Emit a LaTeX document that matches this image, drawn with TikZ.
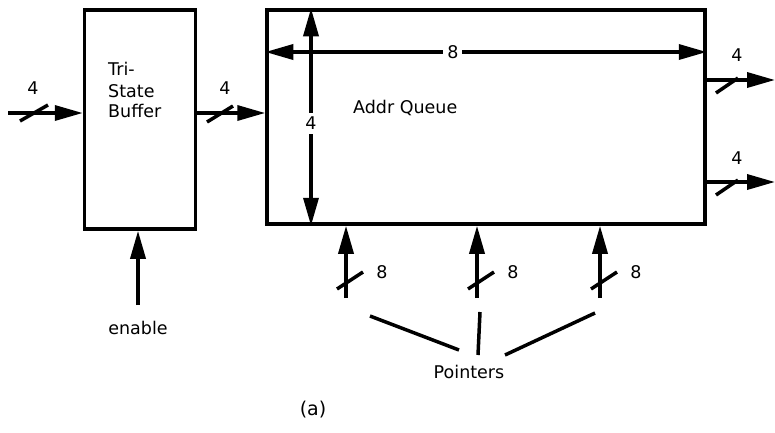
\documentclass[tikz,border=0pt]{standalone}
\usepackage{fontspec}
\setmainfont{DejaVu Sans}
\usetikzlibrary{arrows.meta}
\begin{document}
\begin{tikzpicture}[x=1pt,y=-1pt,
  box/.style={draw, line width=3.5pt, inner sep=0pt},
  tip/.tip={Triangle[length=28pt,width=15pt]},
  wire/.style={line width=3.5pt, -tip},
  dwire/.style={line width=3.5pt, tip-tip},
  slash/.style={line width=3.5pt},
  plain/.style={line width=3.5pt},
  lbl/.style={font=\fontsize{17.5}{21}\selectfont, inner sep=1pt},
  gap/.style={lbl, fill=white, inner sep=4pt}]
\useasboundingbox (0,0) rectangle (775,432);

% boxes
\node[box, minimum width=111pt, minimum height=219pt] (buf) at (140,119.5) {};
\node[box, minimum width=438pt, minimum height=214pt] (q) at (486,117) {};

\node[lbl, anchor=base west] (t1) at (107,75) {Tri-};
\node[lbl, anchor=base west] (t2) at (107,97) {State};
\node[lbl, anchor=base west] (t3) at (107,117) {Buffer};
\node[lbl, anchor=base west] (qtxt) at (352,113) {Addr Queue};

% input to buffer
\coordinate (in) at (8,113);
\draw[wire] (in) -- (in -| buf.west);
\draw[slash] (20,121) -- (48,105);
\node[lbl] (l1) at (33,88) {4};

% buffer to queue
\coordinate (m) at (0,113);
\draw[wire] (m -| buf.east) -- (m -| q.west);
\draw[slash] (207,122) -- (233,106);
\node[lbl] (l2) at (225,88) {4};

% dimension arrows inside queue
\coordinate (h) at (0,52);
\draw[dwire] (h -| q.west) -- node[gap, pos=0.425] (l8) {8} (h -| q.east);
\coordinate (v) at (311,0);
\draw[dwire] (v |- q.north) -- node[gap, pos=0.53] (l4) {4} (v |- q.south);

% outputs
\coordinate (o1) at (775,80);
\coordinate (o2) at (775,182);
\draw[wire] (o1 -| q.east) -- (o1);
\draw[wire] (o2 -| q.east) -- (o2);
\draw[slash] (716,93) -- (738,78);
\draw[slash] (716,195) -- (738,180);
\node[lbl] (lo1) at (737,55) {4};
\node[lbl] (lo2) at (737,158) {4};

% pointer inputs
\foreach \x/\n in {346/a,477/b,600/c}{
  \coordinate (p\n) at (\x,298);
  \draw[wire] (p\n) -- (p\n |- q.south);
  \draw[slash] (\x-9,289) -- (\x+17,272);
  \node[lbl] (lp\n) at (\x+36,272) {8};
}

% pointers label
\node[lbl] (ptr) at (469,372) {Pointers};
\coordinate (s1) at (370,316);
\coordinate (e1) at (459,350);
\coordinate (s2) at (480,312);
\coordinate (e2) at (478,355);
\coordinate (s3) at (595,313);
\coordinate (e3) at (505,355);
\draw[plain] (s1) -- (e1);
\draw[plain] (s2) -- (e2);
\draw[plain] (s3) -- (e3);

% enable
\node[lbl] (en) at (138,328) {enable};
\coordinate (ein) at (138,305);
\draw[wire] (ein) -- (ein |- buf.south);

% caption
\node[lbl, font=\fontsize{19}{21}\selectfont] (cap) at (313,410) {(a)};
\end{tikzpicture}
\end{document}
